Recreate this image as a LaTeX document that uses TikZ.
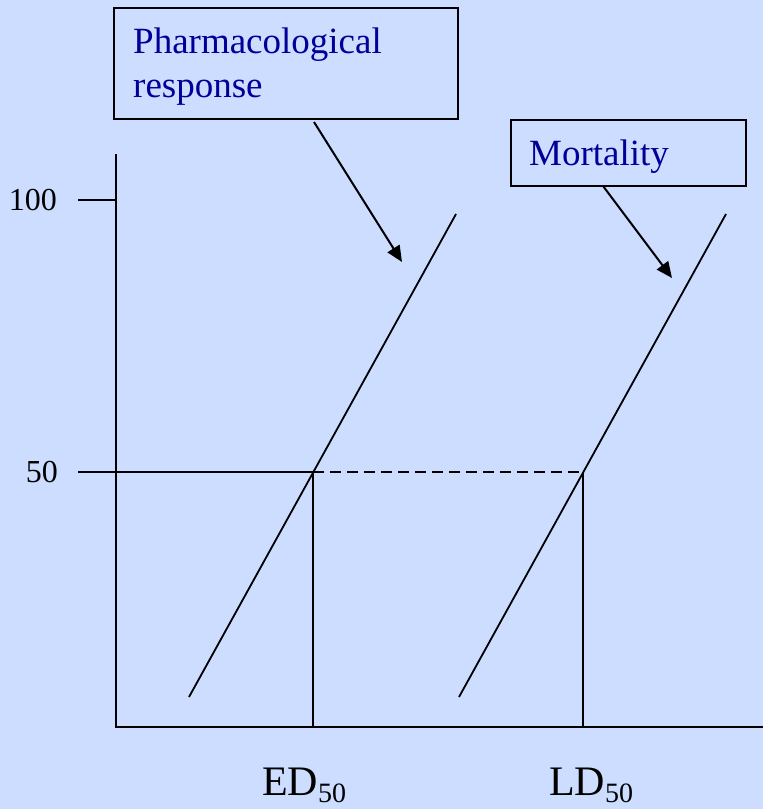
\documentclass[tikz,border=0pt]{standalone}
\usepackage{fontspec}
\setmainfont{Liberation Serif}
\usetikzlibrary{arrows.meta}
\definecolor{bgblue}{RGB}{204,221,255}
\definecolor{txtblue}{RGB}{0,0,153}
\newcommand{\dosesub}[1]{\raisebox{-7pt}{\fontsize{28}{30}\selectfont #1}}
\begin{document}
\begin{tikzpicture}[x=1pt,y=-1pt,
  box/.style={draw=black,line width=2.4pt,rectangle,inner sep=0pt,anchor=north west},
  lbl/.style={text=txtblue,font=\fontsize{37}{44}\selectfont,anchor=base west,inner sep=0pt,align=left},
  axis/.style={line width=2.4pt},
  slope/.style={line width=1.8pt},
  arr/.style={line width=2pt,-{Triangle[length=16pt,width=14pt]}},
  num/.style={font=\fontsize{32}{36}\selectfont,inner sep=0pt,anchor=base east},
  dose/.style={font=\fontsize{42}{46}\selectfont,inner sep=0pt,anchor=base west}]
\fill[bgblue] (0,0) rectangle (763,809);
\useasboundingbox (0,0) rectangle (763,809);
% boxes
\node[box,minimum width=344pt,minimum height=111pt] (pr) at (113,7) {};
\node[lbl] (prt) at (133,53) {Pharmacological};
\node[lbl] (prt2) at (133,97) {response};
\node[box,minimum width=235pt,minimum height=66pt] (mo) at (510,119) {};
\node[lbl] (mot) at (529,165) {Mortality};
% axes
\coordinate (ytop) at (116,154);
\coordinate (orig) at (116,727);
\coordinate (xend) at (763,727);
\draw[axis] (ytop) -- (orig) -- (xend);
\coordinate (t100a) at (78,200);
\coordinate (t100b) at (116,200);
\draw[axis] (t100a) -- (t100b);
\node[num] (n100) at (57,210) {100};
\node[num] (n50) at (58,482) {50};
% 50 line
\coordinate (t50a) at (78,472);
\coordinate (ed) at (313,472);
\coordinate (ld) at (583,472);
\coordinate (edb) at (313,727);
\coordinate (ldb) at (583,727);
\draw[axis] (t50a) -- (ed);
\draw[axis,dash pattern=on 11pt off 6pt] (ed) -- (ld);
\draw[slope] (ed) -- (edb);
\draw[slope] (ld) -- (ldb);
% slopes
\coordinate (s1a) at (189,697);
\coordinate (s1b) at (456,214);
\coordinate (s2a) at (459,697);
\coordinate (s2b) at (726,214);
\draw[slope] (s1a) -- (s1b);
\draw[slope] (s2a) -- (s2b);
% arrows
\coordinate (a1s) at (314,122);
\coordinate (a1e) at (402,262);
\coordinate (a2s) at (603,186);
\coordinate (a2e) at (672,278);
\draw[arr] (a1s) -- (a1e);
\draw[arr] (a2s) -- (a2e);
% labels
\node[dose] (edl) at (262,795) {ED\dosesub{50}};
\node[dose] (ldl) at (549,795) {LD\dosesub{50}};
\end{tikzpicture}
\end{document}
